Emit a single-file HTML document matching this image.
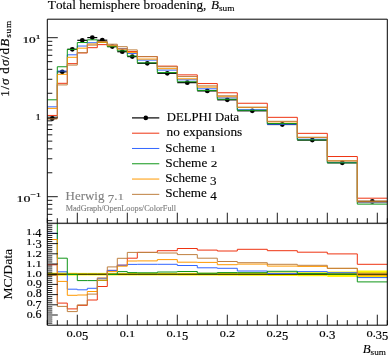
<!DOCTYPE html>
<html><head><meta charset="utf-8"><style>
html,body{margin:0;padding:0;background:#fff;}
body{width:388px;height:355px;overflow:hidden;font-family:"Liberation Serif",serif;}
svg{display:block;will-change:transform;}
</style></head><body>
<svg width="388" height="355" viewBox="0 0 388 355">
<defs><clipPath id="cm"><rect x="47.30" y="19.20" width="340.00" height="204.00"/></clipPath>
<clipPath id="cr"><rect x="47.30" y="223.20" width="340.00" height="102.00"/></clipPath></defs>
<g fill="#fff500" clip-path="url(#cr)"><rect x="47.30" y="272.70" width="10.00" height="3.00"/><rect x="57.30" y="272.70" width="10.00" height="3.00"/><rect x="67.30" y="272.80" width="10.00" height="2.80"/><rect x="77.30" y="272.90" width="10.00" height="2.60"/><rect x="87.30" y="272.90" width="10.00" height="2.60"/><rect x="97.30" y="272.90" width="10.00" height="2.60"/><rect x="107.30" y="272.90" width="10.00" height="2.60"/><rect x="117.30" y="272.90" width="10.00" height="2.60"/><rect x="127.30" y="272.90" width="10.00" height="2.60"/><rect x="137.30" y="272.90" width="20.00" height="2.60"/><rect x="157.30" y="272.90" width="20.00" height="2.60"/><rect x="177.30" y="272.80" width="20.00" height="2.80"/><rect x="197.30" y="272.80" width="20.00" height="2.80"/><rect x="217.30" y="272.70" width="20.00" height="3.00"/><rect x="237.30" y="272.60" width="30.00" height="3.20"/><rect x="267.30" y="272.40" width="30.00" height="3.60"/><rect x="297.30" y="272.20" width="30.00" height="4.00"/><rect x="327.30" y="271.50" width="30.00" height="5.40"/><rect x="357.30" y="270.50" width="30.00" height="7.40"/></g>
<line x1="47.30" y1="274.20" x2="387.30" y2="274.20" stroke="#000" stroke-width="1.0"/>
<path d="M47.30 264.80 L57.30 264.80 L57.30 303.10 L67.30 303.10 L67.30 308.90 L77.30 308.90 L77.30 305.40 L87.30 305.40 L87.30 300.00 L97.30 300.00 L97.30 286.50 L107.30 286.50 L107.30 270.40 L117.30 270.40 L117.30 265.20 L127.30 265.20 L127.30 258.20 L137.30 258.20 L137.30 252.30 L157.30 252.30 L157.30 250.70 L177.30 250.70 L177.30 248.50 L197.30 248.50 L197.30 250.10 L217.30 250.10 L217.30 251.00 L237.30 251.00 L237.30 249.30 L267.30 249.30 L267.30 250.70 L297.30 250.70 L297.30 252.20 L327.30 252.20 L327.30 253.90 L357.30 253.90 L357.30 264.30 L387.30 264.30" fill="none" stroke="#ee3311" stroke-width="1.0" clip-path="url(#cr)"/>
<path d="M47.30 233.30 L57.30 233.30 L57.30 271.80 L67.30 271.80 L67.30 289.20 L77.30 289.20 L77.30 289.80 L87.30 289.80 L87.30 288.30 L97.30 288.30 L97.30 278.70 L107.30 278.70 L107.30 270.40 L117.30 270.40 L117.30 265.20 L127.30 265.20 L127.30 264.40 L137.30 264.40 L137.30 264.30 L157.30 264.30 L157.30 264.30 L177.30 264.30 L177.30 265.50 L197.30 265.50 L197.30 267.80 L217.30 267.80 L217.30 268.30 L237.30 268.30 L237.30 271.00 L267.30 271.00 L267.30 273.40 L297.30 273.40 L297.30 271.60 L327.30 271.60 L327.30 272.70 L357.30 272.70 L357.30 277.60 L387.30 277.60" fill="none" stroke="#3366ff" stroke-width="1.0" clip-path="url(#cr)"/>
<path d="M47.30 200.00 L57.30 200.00 L57.30 258.20 L67.30 258.20 L67.30 274.50 L77.30 274.50 L77.30 280.60 L87.30 280.60 L87.30 280.60 L97.30 280.60 L97.30 280.40 L107.30 280.40 L107.30 274.40 L117.30 274.40 L117.30 271.60 L127.30 271.60 L127.30 272.60 L137.30 272.60 L137.30 272.80 L157.30 272.80 L157.30 272.00 L177.30 272.00 L177.30 271.50 L197.30 271.50 L197.30 273.20 L217.30 273.20 L217.30 272.60 L237.30 272.60 L237.30 272.70 L267.30 272.70 L267.30 271.30 L297.30 271.30 L297.30 273.60 L327.30 273.60 L327.30 274.20 L357.30 274.20 L357.30 281.90 L387.30 281.90" fill="none" stroke="#109618" stroke-width="1.0" clip-path="url(#cr)"/>
<path d="M47.30 239.50 L57.30 239.50 L57.30 281.40 L67.30 281.40 L67.30 295.30 L77.30 295.30 L77.30 295.00 L87.30 295.00 L87.30 291.50 L97.30 291.50 L97.30 280.20 L107.30 280.20 L107.30 271.60 L117.30 271.60 L117.30 266.20 L127.30 266.20 L127.30 261.00 L137.30 261.00 L137.30 260.90 L157.30 260.90 L157.30 259.60 L177.30 259.60 L177.30 262.20 L197.30 262.20 L197.30 262.40 L217.30 262.40 L217.30 264.70 L237.30 264.70 L237.30 264.10 L267.30 264.10 L267.30 266.10 L297.30 266.10 L297.30 266.40 L327.30 266.40 L327.30 268.40 L357.30 268.40 L357.30 275.70 L387.30 275.70" fill="none" stroke="#ff9900" stroke-width="1.0" clip-path="url(#cr)"/>
<path d="M47.30 275.40 L57.30 275.40 L57.30 306.40 L67.30 306.40 L67.30 311.60 L77.30 311.60 L77.30 304.90 L87.30 304.90 L87.30 294.10 L97.30 294.10 L97.30 277.90 L107.30 277.90 L107.30 266.90 L117.30 266.90 L117.30 258.30 L127.30 258.30 L127.30 252.40 L137.30 252.40 L137.30 252.50 L157.30 252.50 L157.30 253.00 L177.30 253.00 L177.30 254.60 L197.30 254.60 L197.30 258.20 L217.30 258.20 L217.30 261.50 L237.30 261.50 L237.30 262.70 L267.30 262.70 L267.30 264.30 L297.30 264.30 L297.30 265.30 L327.30 265.30 L327.30 268.30 L357.30 268.30 L357.30 273.20 L387.30 273.20" fill="none" stroke="#bf8040" stroke-width="1.0" clip-path="url(#cr)"/>
<g stroke="#000" stroke-width="1.2"><line x1="47.30" y1="118.50" x2="57.30" y2="118.50"/><line x1="57.30" y1="71.80" x2="67.30" y2="71.80"/><line x1="67.30" y1="49.30" x2="77.30" y2="49.30"/><line x1="77.30" y1="40.30" x2="87.30" y2="40.30"/><line x1="87.30" y1="37.60" x2="97.30" y2="37.60"/><line x1="97.30" y1="40.20" x2="107.30" y2="40.20"/><line x1="107.30" y1="46.60" x2="117.30" y2="46.60"/><line x1="117.30" y1="51.70" x2="127.30" y2="51.70"/><line x1="127.30" y1="56.60" x2="137.30" y2="56.60"/><line x1="137.30" y1="63.30" x2="157.30" y2="63.30"/><line x1="157.30" y1="73.30" x2="177.30" y2="73.30"/><line x1="177.30" y1="82.65" x2="197.30" y2="82.65"/><line x1="197.30" y1="90.90" x2="217.30" y2="90.90"/><line x1="217.30" y1="99.85" x2="237.30" y2="99.85"/><line x1="237.30" y1="110.80" x2="267.30" y2="110.80"/><line x1="267.30" y1="124.50" x2="297.30" y2="124.50"/><line x1="297.30" y1="140.10" x2="327.30" y2="140.10"/><line x1="327.30" y1="162.80" x2="357.30" y2="162.80"/><line x1="357.30" y1="201.40" x2="387.30" y2="201.40"/></g>
<g fill="#000"><circle cx="52.30" cy="118.50" r="2.4"/><circle cx="62.30" cy="71.80" r="2.4"/><circle cx="72.30" cy="49.30" r="2.4"/><circle cx="82.30" cy="40.30" r="2.4"/><circle cx="92.30" cy="37.60" r="2.4"/><circle cx="102.30" cy="40.20" r="2.4"/><circle cx="112.30" cy="46.60" r="2.4"/><circle cx="122.30" cy="51.70" r="2.4"/><circle cx="132.30" cy="56.60" r="2.4"/><circle cx="147.30" cy="63.30" r="2.4"/><circle cx="167.30" cy="73.30" r="2.4"/><circle cx="187.30" cy="82.65" r="2.4"/><circle cx="207.30" cy="90.90" r="2.4"/><circle cx="227.30" cy="99.85" r="2.4"/><circle cx="252.30" cy="110.80" r="2.4"/><circle cx="282.30" cy="124.50" r="2.4"/><circle cx="312.30" cy="140.10" r="2.4"/><circle cx="342.30" cy="162.80" r="2.4"/><circle cx="372.30" cy="201.40" r="2.4"/></g>
<path d="M47.30 115.45 L57.30 115.45 L57.30 83.32 L67.30 83.32 L67.30 63.67 L77.30 63.67 L77.30 52.92 L87.30 52.92 L87.30 47.68 L97.30 47.68 L97.30 44.64 L107.30 44.64 L107.30 45.34 L117.30 45.34 L117.30 48.78 L127.30 48.78 L127.30 51.56 L137.30 51.56 L137.30 56.58 L157.30 56.58 L157.30 66.13 L177.30 66.13 L177.30 74.88 L197.30 74.88 L197.30 83.57 L217.30 83.57 L217.30 92.77 L237.30 92.77 L237.30 103.25 L267.30 103.25 L267.30 117.33 L297.30 117.33 L297.30 133.35 L327.30 133.35 L327.30 156.53 L357.30 156.53 L357.30 198.20 L387.30 198.20" fill="none" stroke="#ee3311" stroke-width="1.0" clip-path="url(#cm)"/>
<path d="M47.30 106.84 L57.30 106.84 L57.30 71.00 L67.30 71.00 L67.30 54.80 L77.30 54.80 L77.30 46.04 L87.30 46.04 L87.30 42.74 L97.30 42.74 L97.30 41.76 L107.30 41.76 L107.30 45.34 L117.30 45.34 L117.30 48.78 L127.30 48.78 L127.30 53.43 L137.30 53.43 L137.30 60.10 L157.30 60.10 L157.30 70.10 L177.30 70.10 L177.30 79.82 L197.30 79.82 L197.30 88.80 L217.30 88.80 L217.30 97.91 L237.30 97.91 L237.30 109.73 L267.30 109.73 L267.30 124.23 L297.30 124.23 L297.30 139.23 L327.30 139.23 L327.30 162.30 L357.30 162.30 L357.30 202.57 L387.30 202.57" fill="none" stroke="#3366ff" stroke-width="1.0" clip-path="url(#cm)"/>
<path d="M47.30 99.80 L57.30 99.80 L57.30 66.76 L67.30 66.76 L67.30 49.40 L77.30 49.40 L77.30 42.54 L87.30 42.54 L87.30 39.84 L97.30 39.84 L97.30 42.37 L107.30 42.37 L107.30 46.67 L117.30 46.67 L117.30 50.83 L127.30 50.83 L127.30 56.06 L137.30 56.06 L137.30 62.83 L157.30 62.83 L157.30 72.56 L177.30 72.56 L177.30 81.75 L197.30 81.75 L197.30 90.56 L217.30 90.56 L217.30 99.31 L237.30 99.31 L237.30 110.30 L267.30 110.30 L267.30 123.53 L297.30 123.53 L297.30 139.90 L327.30 139.90 L327.30 162.80 L357.30 162.80 L357.30 204.11 L387.30 204.11" fill="none" stroke="#109618" stroke-width="1.0" clip-path="url(#cm)"/>
<path d="M47.30 108.38 L57.30 108.38 L57.30 74.33 L67.30 74.33 L67.30 57.31 L77.30 57.31 L77.30 48.18 L87.30 48.18 L87.30 44.03 L97.30 44.03 L97.30 42.30 L107.30 42.30 L107.30 45.73 L117.30 45.73 L117.30 49.09 L127.30 49.09 L127.30 52.39 L137.30 52.39 L137.30 59.06 L157.30 59.06 L157.30 68.68 L177.30 68.68 L177.30 78.80 L197.30 78.80 L197.30 87.12 L217.30 87.12 L217.30 96.77 L237.30 96.77 L237.30 107.54 L267.30 107.54 L267.30 121.86 L297.30 121.86 L297.30 137.55 L327.30 137.55 L327.30 160.89 L357.30 160.89 L357.30 201.91 L387.30 201.91" fill="none" stroke="#ff9900" stroke-width="1.0" clip-path="url(#cm)"/>
<path d="M47.30 118.91 L57.30 118.91 L57.30 84.91 L67.30 84.91 L67.30 65.09 L77.30 65.09 L77.30 52.68 L87.30 52.68 L87.30 45.10 L97.30 45.10 L97.30 41.48 L107.30 41.48 L107.30 44.21 L117.30 44.21 L117.30 46.69 L127.30 46.69 L127.30 49.90 L137.30 49.90 L137.30 56.63 L157.30 56.63 L157.30 66.77 L177.30 66.77 L177.30 76.57 L197.30 76.57 L197.30 85.86 L217.30 85.86 L217.30 95.79 L237.30 95.79 L237.30 107.11 L267.30 107.11 L267.30 121.30 L297.30 121.30 L297.30 137.21 L327.30 137.21 L327.30 160.86 L357.30 160.86 L357.30 201.06 L387.30 201.06" fill="none" stroke="#bf8040" stroke-width="1.0" clip-path="url(#cm)"/>
<path d="M47.30 223.20 v-5.0 M47.30 325.20 v-5.0 M57.30 223.20 v-5.0 M57.30 325.20 v-5.0 M67.30 223.20 v-5.0 M67.30 325.20 v-5.0 M77.30 223.20 v-10.5 M77.30 325.20 v-10.5 M87.30 223.20 v-5.0 M87.30 325.20 v-5.0 M97.30 223.20 v-5.0 M97.30 325.20 v-5.0 M107.30 223.20 v-5.0 M107.30 325.20 v-5.0 M117.30 223.20 v-5.0 M117.30 325.20 v-5.0 M127.30 223.20 v-10.5 M127.30 325.20 v-10.5 M137.30 223.20 v-5.0 M137.30 325.20 v-5.0 M147.30 223.20 v-5.0 M147.30 325.20 v-5.0 M157.30 223.20 v-5.0 M157.30 325.20 v-5.0 M167.30 223.20 v-5.0 M167.30 325.20 v-5.0 M177.30 223.20 v-10.5 M177.30 325.20 v-10.5 M187.30 223.20 v-5.0 M187.30 325.20 v-5.0 M197.30 223.20 v-5.0 M197.30 325.20 v-5.0 M207.30 223.20 v-5.0 M207.30 325.20 v-5.0 M217.30 223.20 v-5.0 M217.30 325.20 v-5.0 M227.30 223.20 v-10.5 M227.30 325.20 v-10.5 M237.30 223.20 v-5.0 M237.30 325.20 v-5.0 M247.30 223.20 v-5.0 M247.30 325.20 v-5.0 M257.30 223.20 v-5.0 M257.30 325.20 v-5.0 M267.30 223.20 v-5.0 M267.30 325.20 v-5.0 M277.30 223.20 v-10.5 M277.30 325.20 v-10.5 M287.30 223.20 v-5.0 M287.30 325.20 v-5.0 M297.30 223.20 v-5.0 M297.30 325.20 v-5.0 M307.30 223.20 v-5.0 M307.30 325.20 v-5.0 M317.30 223.20 v-5.0 M317.30 325.20 v-5.0 M327.30 223.20 v-10.5 M327.30 325.20 v-10.5 M337.30 223.20 v-5.0 M337.30 325.20 v-5.0 M347.30 223.20 v-5.0 M347.30 325.20 v-5.0 M357.30 223.20 v-5.0 M357.30 325.20 v-5.0 M367.30 223.20 v-5.0 M367.30 325.20 v-5.0 M377.30 223.20 v-10.5 M377.30 325.20 v-10.5 M387.30 223.20 v-5.0 M387.30 325.20 v-5.0 M47.30 220.63 h5.0 M47.30 214.34 h5.0 M47.30 209.01 h5.0 M47.30 204.40 h5.0 M47.30 200.34 h5.0 M47.30 196.70 h10.5 M47.30 172.77 h5.0 M47.30 158.77 h5.0 M47.30 148.84 h5.0 M47.30 141.13 h5.0 M47.30 134.84 h5.0 M47.30 129.51 h5.0 M47.30 124.90 h5.0 M47.30 120.84 h5.0 M47.30 117.20 h10.5 M47.30 93.27 h5.0 M47.30 79.27 h5.0 M47.30 69.34 h5.0 M47.30 61.63 h5.0 M47.30 55.34 h5.0 M47.30 50.01 h5.0 M47.30 45.40 h5.0 M47.30 41.34 h5.0 M47.30 37.70 h10.5 M47.30 323.16 h5.0 M47.30 321.12 h5.0 M47.30 319.08 h5.0 M47.30 317.04 h5.0 M47.30 315.00 h10.5 M47.30 312.96 h5.0 M47.30 310.92 h5.0 M47.30 308.88 h5.0 M47.30 306.84 h5.0 M47.30 304.80 h10.5 M47.30 302.76 h5.0 M47.30 300.72 h5.0 M47.30 298.68 h5.0 M47.30 296.64 h5.0 M47.30 294.60 h10.5 M47.30 292.56 h5.0 M47.30 290.52 h5.0 M47.30 288.48 h5.0 M47.30 286.44 h5.0 M47.30 284.40 h10.5 M47.30 282.36 h5.0 M47.30 280.32 h5.0 M47.30 278.28 h5.0 M47.30 276.24 h5.0 M47.30 274.20 h10.5 M47.30 272.16 h5.0 M47.30 270.12 h5.0 M47.30 268.08 h5.0 M47.30 266.04 h5.0 M47.30 264.00 h10.5 M47.30 261.96 h5.0 M47.30 259.92 h5.0 M47.30 257.88 h5.0 M47.30 255.84 h5.0 M47.30 253.80 h10.5 M47.30 251.76 h5.0 M47.30 249.72 h5.0 M47.30 247.68 h5.0 M47.30 245.64 h5.0 M47.30 243.60 h10.5 M47.30 241.56 h5.0 M47.30 239.52 h5.0 M47.30 237.48 h5.0 M47.30 235.44 h5.0 M47.30 233.40 h10.5 M47.30 231.36 h5.0 M47.30 229.32 h5.0 M47.30 227.28 h5.0 M47.30 225.24 h5.0" stroke="#000" stroke-width="0.9" fill="none"/>
<rect x="48" y="315.4" width="3.6" height="7.2" fill="#9a9a9a"/>
<path d="M47.30 19.20 H387.30 V223.20 H47.30 Z" fill="none" stroke="#000" stroke-width="1.0"/>
<line x1="47.30" y1="223.70" x2="387.30" y2="223.70" stroke="#000" stroke-width="0.3"/>
<path d="M47.30 223.20 V325.20 H387.30 V223.20" fill="none" stroke="#000" stroke-width="1.0"/>
<line x1="132" y1="117.90" x2="159.3" y2="117.90" stroke="#000" stroke-width="1.2"/>
<line x1="132" y1="133.19" x2="159.3" y2="133.19" stroke="#ee3311" stroke-width="1.0"/>
<line x1="132" y1="148.48" x2="159.3" y2="148.48" stroke="#3366ff" stroke-width="1.0"/>
<line x1="132" y1="163.77" x2="159.3" y2="163.77" stroke="#109618" stroke-width="1.0"/>
<line x1="132" y1="179.06" x2="159.3" y2="179.06" stroke="#ff9900" stroke-width="1.0"/>
<line x1="132" y1="194.35" x2="159.3" y2="194.35" stroke="#bf8040" stroke-width="1.0"/>
<circle cx="145.8" cy="117.9" r="2.3" fill="#000"/>
<g transform="translate(166.733,121.100) scale(1.0262,1.0000)" font-family="Liberation Serif" fill="#000" stroke="#000" stroke-width="0.120" style="font-kerning:none;white-space:pre"><text x="0.000" y="0.000" font-size="12.400">DELPHI&#160;Data</text></g>
<g transform="translate(166.494,136.490) scale(1.0748,1.0000)" font-family="Liberation Serif" fill="#000" stroke="#000" stroke-width="0.120" style="font-kerning:none;white-space:pre"><text x="0.000" y="0.000" font-size="12.400">no&#160;expansions</text></g>
<g transform="translate(165.328,151.580) scale(1.0515,1.0000)" font-family="Liberation Serif" fill="#000" stroke="#000" stroke-width="0.120" style="font-kerning:none;white-space:pre"><text x="0.000" y="0.000" font-size="12.400">Scheme&#160;</text><text transform="translate(42.353,0.000) scale(1,0.6870)" font-size="12.400">1</text></g>
<g transform="translate(165.311,166.870) scale(1.0715,1.0000)" font-family="Liberation Serif" fill="#000" stroke="#000" stroke-width="0.120" style="font-kerning:none;white-space:pre"><text x="0.000" y="0.000" font-size="12.400">Scheme&#160;</text><text transform="translate(42.353,0.000) scale(1,0.6870)" font-size="12.400">2</text></g>
<g transform="translate(165.324,182.160) scale(1.0563,1.0000)" font-family="Liberation Serif" fill="#000" stroke="#000" stroke-width="0.120" style="font-kerning:none;white-space:pre"><text x="0.000" y="0.000" font-size="12.400">Scheme&#160;</text><text transform="translate(42.353,2.852) scale(1,1.0534)" font-size="12.400">3</text></g>
<g transform="translate(165.320,197.450) scale(1.0604,1.0000)" font-family="Liberation Serif" fill="#000" stroke="#000" stroke-width="0.120" style="font-kerning:none;white-space:pre"><text x="0.000" y="0.000" font-size="12.400">Scheme&#160;</text><text transform="translate(42.353,2.480) scale(1,1.0076)" font-size="12.400">4</text></g>
<g transform="translate(65.526,200.000) scale(1.0460,1.0000)" font-family="Liberation Serif" fill="#808080" stroke="#808080" stroke-width="0.120" style="font-kerning:none;white-space:pre"><text x="0.000" y="0.000" font-size="12.400">Herwig&#160;</text><text transform="translate(40.288,2.852) scale(1,1.0534)" font-size="12.400">7</text><text x="46.488" y="0.000" font-size="12.400">.</text><text transform="translate(49.588,0.000) scale(1,0.6870)" font-size="12.400">1</text></g>
<g transform="translate(65.663,211.400) scale(1.0970,1.0000)" font-family="Liberation Serif" fill="#808080" stroke="#808080" stroke-width="0.120" style="font-kerning:none;white-space:pre"><text x="0.000" y="0.000" font-size="7.500">MadGraph/OpenLoops/ColorFull</text></g>
<g transform="translate(47.860,8.900) scale(1.0692,1.0000)" font-family="Liberation Serif" fill="#000" stroke="#000" stroke-width="0.120" style="font-kerning:none;white-space:pre"><text x="0.000" y="0.000" font-size="12.400">Total&#160;hemisphere&#160;broadening,</text></g>
<g transform="translate(210.878,8.900) scale(1.0595,1.0000)" font-family="Liberation Serif" fill="#000" stroke="#000" stroke-width="0.120" style="font-kerning:none;white-space:pre"><text x="0.000" y="0.000" font-size="12.400" font-style="italic">B</text><text x="7.574" y="1.700" font-size="8.800">sum</text></g>
<g transform="translate(66.426,336.700) scale(1.0362,1.0000)" font-family="Liberation Serif" fill="#000" stroke="#000" stroke-width="0.200" style="font-kerning:none;white-space:pre"><text transform="translate(0.000,0.000) scale(1,0.6870)" font-size="12.000">0</text><text x="6.000" y="0.000" font-size="12.000">.</text><text transform="translate(9.000,0.000) scale(1,0.6870)" font-size="12.000">0</text><text transform="translate(15.000,3.000) scale(1,1.0840)" font-size="12.000">5</text></g>
<g transform="translate(119.784,336.700) scale(1.0201,1.0000)" font-family="Liberation Serif" fill="#000" stroke="#000" stroke-width="0.200" style="font-kerning:none;white-space:pre"><text transform="translate(0.000,0.000) scale(1,0.6870)" font-size="12.000">0</text><text x="6.000" y="0.000" font-size="12.000">.</text><text transform="translate(9.000,0.000) scale(1,0.6870)" font-size="12.000">1</text></g>
<g transform="translate(166.426,336.700) scale(1.0362,1.0000)" font-family="Liberation Serif" fill="#000" stroke="#000" stroke-width="0.200" style="font-kerning:none;white-space:pre"><text transform="translate(0.000,0.000) scale(1,0.6870)" font-size="12.000">0</text><text x="6.000" y="0.000" font-size="12.000">.</text><text transform="translate(9.000,0.000) scale(1,0.6870)" font-size="12.000">1</text><text transform="translate(15.000,3.000) scale(1,1.0840)" font-size="12.000">5</text></g>
<g transform="translate(219.786,336.700) scale(1.0158,1.0000)" font-family="Liberation Serif" fill="#000" stroke="#000" stroke-width="0.200" style="font-kerning:none;white-space:pre"><text transform="translate(0.000,0.000) scale(1,0.6870)" font-size="12.000">0</text><text x="6.000" y="0.000" font-size="12.000">.</text><text transform="translate(9.000,0.000) scale(1,0.6870)" font-size="12.000">2</text></g>
<g transform="translate(266.426,336.700) scale(1.0362,1.0000)" font-family="Liberation Serif" fill="#000" stroke="#000" stroke-width="0.200" style="font-kerning:none;white-space:pre"><text transform="translate(0.000,0.000) scale(1,0.6870)" font-size="12.000">0</text><text x="6.000" y="0.000" font-size="12.000">.</text><text transform="translate(9.000,0.000) scale(1,0.6870)" font-size="12.000">2</text><text transform="translate(15.000,3.000) scale(1,1.0840)" font-size="12.000">5</text></g>
<g transform="translate(319.313,336.700) scale(1.0658,1.0000)" font-family="Liberation Serif" fill="#000" stroke="#000" stroke-width="0.200" style="font-kerning:none;white-space:pre"><text transform="translate(0.000,0.000) scale(1,0.6870)" font-size="12.000">0</text><text x="6.000" y="0.000" font-size="12.000">.</text><text transform="translate(9.000,2.760) scale(1,1.0534)" font-size="12.000">3</text></g>
<g transform="translate(366.426,336.700) scale(1.0362,1.0000)" font-family="Liberation Serif" fill="#000" stroke="#000" stroke-width="0.200" style="font-kerning:none;white-space:pre"><text transform="translate(0.000,0.000) scale(1,0.6870)" font-size="12.000">0</text><text x="6.000" y="0.000" font-size="12.000">.</text><text transform="translate(9.000,2.760) scale(1,1.0534)" font-size="12.000">3</text><text transform="translate(15.000,3.000) scale(1,1.0840)" font-size="12.000">5</text></g>
<g transform="translate(362.680,352.800) scale(1.0459,1.0000)" font-family="Liberation Serif" fill="#000" stroke="#000" stroke-width="0.120" style="font-kerning:none;white-space:pre"><text x="0.000" y="0.000" font-size="12.400" font-style="italic">B</text><text x="7.574" y="1.700" font-size="8.800">sum</text></g>
<g transform="translate(22.422,42.500) scale(1.1168,1.0000)" font-family="Liberation Serif" fill="#000" stroke="#000" stroke-width="0.250" style="font-kerning:none;white-space:pre"><text transform="translate(0.000,0.000) scale(1,0.6870)" font-size="12.000">1</text><text transform="translate(6.000,0.000) scale(1,0.6870)" font-size="12.000">0</text><text transform="translate(12.000,-4.000) scale(1,0.6870)" font-size="8.500">1</text></g>
<g transform="translate(35.576,120.400) scale(0.8758,1.0000)" font-family="Liberation Serif" fill="#000" stroke="#000" stroke-width="0.250" style="font-kerning:none;white-space:pre"><text transform="translate(0.000,0.000) scale(1,0.6870)" font-size="12.000">1</text></g>
<g transform="translate(16.471,202.000) scale(1.1654,1.0000)" font-family="Liberation Serif" fill="#000" stroke="#000" stroke-width="0.250" style="font-kerning:none;white-space:pre"><text transform="translate(0.000,0.000) scale(1,0.6870)" font-size="12.000">1</text><text transform="translate(6.000,0.000) scale(1,0.6870)" font-size="12.000">0</text><text x="12.000" y="-5.200" font-size="8.500">−</text><text transform="translate(16.794,-5.200) scale(1,0.6870)" font-size="8.500">1</text></g>
<g transform="translate(26.019,234.720) scale(1.0249,1.0000)" font-family="Liberation Serif" fill="#000" stroke="#000" stroke-width="0.200" style="font-kerning:none;white-space:pre"><text transform="translate(0.000,0.000) scale(1,0.6870)" font-size="12.000">1</text><text x="6.000" y="0.000" font-size="12.000">.</text><text transform="translate(9.000,2.400) scale(1,1.0076)" font-size="12.000">4</text></g>
<g transform="translate(25.997,244.920) scale(1.0463,1.0000)" font-family="Liberation Serif" fill="#000" stroke="#000" stroke-width="0.200" style="font-kerning:none;white-space:pre"><text transform="translate(0.000,0.000) scale(1,0.6870)" font-size="12.000">1</text><text x="6.000" y="0.000" font-size="12.000">.</text><text transform="translate(9.000,2.760) scale(1,1.0534)" font-size="12.000">3</text></g>
<g transform="translate(25.980,256.500) scale(1.0615,1.0000)" font-family="Liberation Serif" fill="#000" stroke="#000" stroke-width="0.200" style="font-kerning:none;white-space:pre"><text transform="translate(0.000,0.000) scale(1,0.6870)" font-size="12.000">1</text><text x="6.000" y="0.000" font-size="12.000">.</text><text transform="translate(9.000,0.000) scale(1,0.6870)" font-size="12.000">2</text></g>
<g transform="translate(25.975,266.700) scale(1.0662,1.0000)" font-family="Liberation Serif" fill="#000" stroke="#000" stroke-width="0.200" style="font-kerning:none;white-space:pre"><text transform="translate(0.000,0.000) scale(1,0.6870)" font-size="12.000">1</text><text x="6.000" y="0.000" font-size="12.000">.</text><text transform="translate(9.000,0.000) scale(1,0.6870)" font-size="12.000">1</text></g>
<g transform="translate(25.997,276.900) scale(1.0454,1.0000)" font-family="Liberation Serif" fill="#000" stroke="#000" stroke-width="0.200" style="font-kerning:none;white-space:pre"><text transform="translate(0.000,0.000) scale(1,0.6870)" font-size="12.000">1</text><text x="6.000" y="0.000" font-size="12.000">.</text><text transform="translate(9.000,0.000) scale(1,0.6870)" font-size="12.000">0</text></g>
<g transform="translate(26.641,285.720) scale(1.0035,1.0000)" font-family="Liberation Serif" fill="#000" stroke="#000" stroke-width="0.200" style="font-kerning:none;white-space:pre"><text transform="translate(0.000,0.000) scale(1,0.6870)" font-size="12.000">0</text><text x="6.000" y="0.000" font-size="12.000">.</text><text transform="translate(9.000,2.760) scale(1,1.0534)" font-size="12.000">9</text></g>
<g transform="translate(26.643,297.300) scale(1.0010,1.0000)" font-family="Liberation Serif" fill="#000" stroke="#000" stroke-width="0.200" style="font-kerning:none;white-space:pre"><text transform="translate(0.000,0.000) scale(1,0.6870)" font-size="12.000">0</text><text x="6.000" y="0.000" font-size="12.000">.8</text></g>
<g transform="translate(26.646,306.120) scale(0.9931,1.0000)" font-family="Liberation Serif" fill="#000" stroke="#000" stroke-width="0.200" style="font-kerning:none;white-space:pre"><text transform="translate(0.000,0.000) scale(1,0.6870)" font-size="12.000">0</text><text x="6.000" y="0.000" font-size="12.000">.</text><text transform="translate(9.000,2.760) scale(1,1.0534)" font-size="12.000">7</text></g>
<g transform="translate(26.646,317.700) scale(0.9940,1.0000)" font-family="Liberation Serif" fill="#000" stroke="#000" stroke-width="0.200" style="font-kerning:none;white-space:pre"><text transform="translate(0.000,0.000) scale(1,0.6870)" font-size="12.000">0</text><text x="6.000" y="0.000" font-size="12.000">.6</text></g>
<g transform="translate(9.300,96.000) rotate(-90)" font-family="Liberation Serif" fill="#000" stroke="#000" stroke-width="0.200" style="font-kerning:none;white-space:pre"><text transform="translate(-0.768,0.000) scale(1.0500,1)" font-size="12.400">1</text><text transform="translate(6.545,0.000) scale(1.0500,1)" font-size="12.400">/</text><text transform="translate(11.053,0.000) scale(1.0500,1)" font-size="12.400" font-style="italic">σ</text><text transform="translate(22.286,0.000) scale(1.0500,1)" font-size="12.400">d</text><text transform="translate(29.899,0.000) scale(1.0500,1)" font-size="12.400" font-style="italic">σ</text><text transform="translate(37.079,0.000) scale(1.0500,1)" font-size="12.400">/</text><text transform="translate(41.554,0.000) scale(1.0500,1)" font-size="12.400">d</text><text transform="translate(49.213,0.000) scale(1.0500,1)" font-size="12.400" font-style="italic">B</text><text transform="translate(58.133,1.700) scale(1.0500,1)" font-size="8.800">s</text><text transform="translate(62.397,1.700) scale(1.0500,1)" font-size="8.800">u</text><text transform="translate(67.994,1.700) scale(1.0500,1)" font-size="8.800">m</text></g>
<g transform="translate(12.400,299.592) rotate(-90) scale(1.0982,1.0000)" font-family="Liberation Serif" fill="#000" stroke="#000" stroke-width="0.120" style="font-kerning:none;white-space:pre"><text x="0.000" y="0.000" font-size="12.400">MC/Data</text></g>
</svg>
</body></html>
